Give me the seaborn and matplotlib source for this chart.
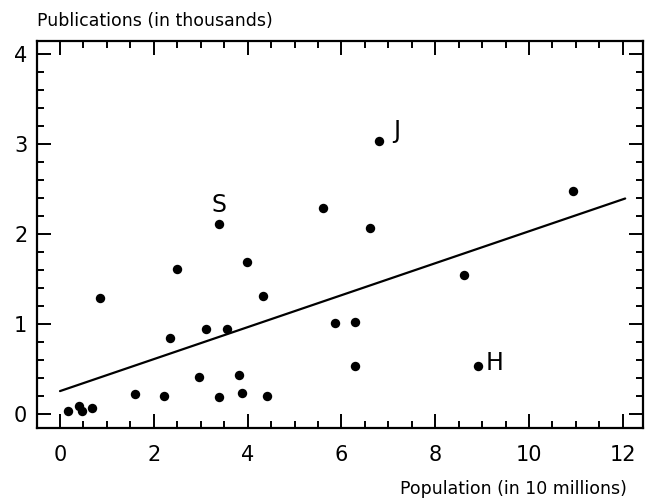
import matplotlib
matplotlib.use("Agg")
import matplotlib.pyplot as plt
import seaborn as sns
import pandas as pd
from matplotlib.ticker import MultipleLocator

# population (10 millions) vs publications (thousands)
population = [0.18, 0.41, 0.47, 0.68, 0.86, 1.59, 2.22, 2.35, 2.50, 2.96,
              3.12, 3.40, 3.38, 3.55, 3.82, 3.88, 3.99, 4.33, 4.41,
              5.61, 6.81, 6.62, 10.93, 5.87, 6.29, 6.30, 8.61, 8.91]
publications = [0.03, 0.08, 0.03, 0.06, 1.29, 0.22, 0.19, 0.84, 1.61, 0.41,
                0.94, 2.11, 0.18, 0.94, 0.43, 0.23, 1.68, 1.31, 0.20,
                2.28, 3.03, 2.06, 2.47, 1.01, 1.02, 0.53, 1.54, 0.53]

line_x = [0.0, 12.05]
line_y = [0.25, 2.39]

labels = ["S", "J", "H"]
label_x = [3.39, 7.19, 9.27]
label_y = [2.32, 3.14, 0.56]

sns.set_style("ticks")
plt.rcParams['font.family'] = ['DejaVu Sans']
plt.rcParams['text.color'] = 'black'
plt.rcParams['xtick.color'] = 'black'
plt.rcParams['ytick.color'] = 'black'

fig = plt.figure(figsize=(6.45, 4.99), dpi=100)
ax = fig.add_axes([0.0574, 0.1423, 0.9395, 0.7755])

df = pd.DataFrame({"x": population, "y": publications})
sns.scatterplot(data=df, x="x", y="y", ax=ax, color="black", s=46,
                edgecolor="black", linewidth=0, zorder=3)
sns.lineplot(x=line_x, y=line_y, ax=ax, color="black", linewidth=1.6)

for t, lx, ly in zip(labels, label_x, label_y):
    ax.text(lx, ly, t, fontsize=17, ha="center", va="center", color="black")

ax.set_xlim(-0.49, 12.43)
ax.set_ylim(-0.16, 4.14)
ax.xaxis.set_major_locator(MultipleLocator(2))
ax.xaxis.set_minor_locator(MultipleLocator(0.5))
ax.yaxis.set_major_locator(MultipleLocator(1))
ax.yaxis.set_minor_locator(MultipleLocator(0.2))

for s in ax.spines.values():
    s.set_linewidth(1.6)
    s.set_color("black")

ax.tick_params(which="both", direction="in", top=True, right=True,
               color="black", width=1.4, labelcolor="black")
ax.tick_params(which="major", length=10, labelsize=15)
ax.tick_params(which="minor", length=5)
ax.tick_params(axis="x", which="major", pad=12)
ax.tick_params(axis="y", which="major", pad=7)
ax.set_xlabel("")
ax.set_ylabel("")

fig.text(37 / 645, 1 - 26 / 499, "Publications (in thousands)", fontsize=12.5,
         ha="left", va="baseline", color="black")
fig.text(627 / 645, 1 - 494 / 499, "Population (in 10 millions)", fontsize=12.5,
         ha="right", va="baseline", color="black")

fig.savefig("out.png", dpi=100)
